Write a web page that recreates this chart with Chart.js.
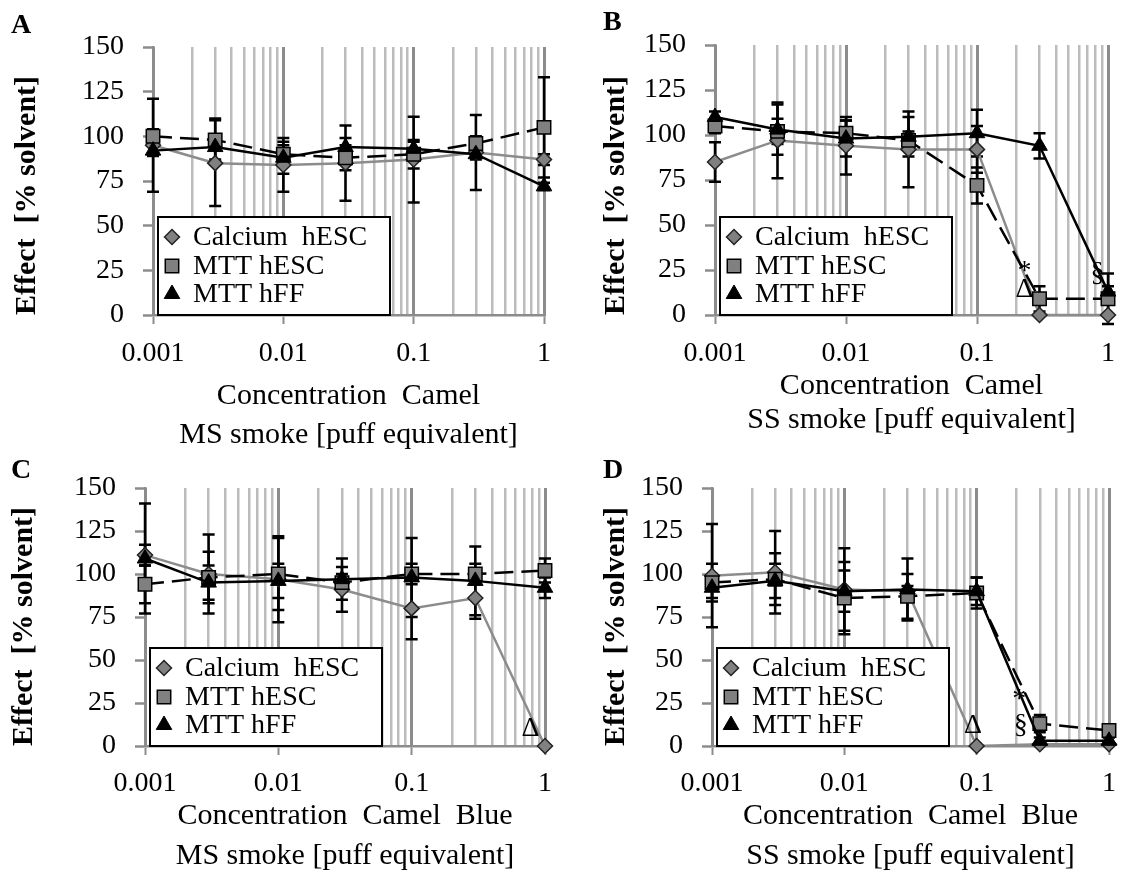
<!DOCTYPE html>
<html>
<head>
<meta charset="utf-8">
<script src="https://cdn.jsdelivr.net/npm/chart.js@4.4.1/dist/chart.umd.min.js"></script>
<style>
  body { margin: 0; background: #fff; }
  #wrap { position: relative; width: 1128px; height: 876px; overflow: hidden; }
  #wrap canvas { position: absolute; }
</style>
</head>
<body>
<div id="wrap">
  <canvas id="chartA" width="564" height="455" style="left:0;top:0;width:564px;height:455px"></canvas>
  <canvas id="chartB" width="564" height="437" style="left:564px;top:0;width:564px;height:437px"></canvas>
  <canvas id="chartC" width="564" height="440" style="left:0;top:436px;width:564px;height:440px"></canvas>
  <canvas id="chartD" width="564" height="440" style="left:564px;top:436px;width:564px;height:440px"></canvas>
</div>
<script>
const xValues = [0.001, 0.003, 0.01, 0.03, 0.1, 0.3, 1];
const tickValues = [0.001, 0.01, 0.1, 1];
const tickLabels = ['0.001', '0.01', '0.1', '1'];
const seriesNames = ['Calcium  hESC', 'MTT hESC', 'MTT hFF'];
const yTitle = 'Effect  [% solvent]';

const titleA = ['Concentration  Camel', 'MS smoke [puff equivalent]'];
const titleB = ['Concentration  Camel', 'SS smoke [puff equivalent]'];
const titleC = ['Concentration  Camel  Blue', 'MS smoke [puff equivalent]'];
const titleD = ['Concentration  Camel  Blue', 'SS smoke [puff equivalent]'];

// A - Camel, MS smoke
const calciumA = [95, 85, 84, 85, 87, 91, 87];
const mttEscA = [100, 98, 90, 88, 90, 96, 105];
const mttHffA = [92, 94, 88, 94, 93, 90, 72];
const errCalciumA = [26, 24, 15, 21, 24, 21, 3];
const errEscA = [4, 12, 5, 7, 8, 4, 28];
const errHffA = [3, 7, 9, 5, 4, 3, 2];

// B - Camel, SS smoke
const calciumB = [85, 97, 94, 92, 92, 0, 0];
const mttEscB = [105, 102, 101, 97, 72, 9, 9];
const mttHffB = [110, 103, 98, 99, 101, 94, 13];
const errCalciumB = [11, 21, 16, 21, 13, 0, 0];
const errEscB = [4, 7, 7, 5, 10, 7, 14];
const errHffB = [3, 14, 10, 11, 13, 7, 3];
const marksB = [['*', 0.23, 24], ['\u0394', 0.23, 14], ['\u00a7', 0.83, 23]];

// C - Camel Blue, MS smoke
const calciumC = [111, 100, 97, 91, 80, 86, 0];
const mttEscC = [94, 98, 100, 95, 100, 100, 102];
const mttHffC = [109, 95, 96, 97, 98, 96, 92];
const errCalciumC = [6, 23, 25, 13, 18, 12, 0];
const errEscC = [11, 15, 21, 5, 6, 6, 7];
const errHffC = [32, 10, 10, 12, 23, 20, 6];
const marksC = [['\u0394', 0.78, 10]];

// D - Camel Blue, SS smoke
const calciumD = [99, 101, 91, 90, 0, 1, 1];
const mttEscD = [95, 97, 86, 87, 89, 13, 9];
const mttHffD = [92, 96, 90, 91, 90, 3, 3];
const errCalciumD = [30, 24, 24, 3, 0, 0, 0];
const errEscD = [11, 15, 21, 13, 9, 5, 2];
const errHffD = [6, 10, 12, 18, 8, 2, 2];
const marksD = [['\u0394', 0.094, 12], ['\u00a7', 0.215, 12], ['*', 0.21, 27]];

const serif = "'Liberation Serif', 'Times New Roman', serif";

function isMajor(v) {
  const l = Math.log10(v);
  return Math.abs(l - Math.round(l)) < 1e-9;
}

// error bars under the markers
const errorBars = {
  id: 'errorBars',
  beforeDatasetsDraw(chart) {
    const {ctx, scales: {x, y}} = chart;
    ctx.save();
    ctx.strokeStyle = '#000';
    ctx.lineWidth = 2.5;
    chart.data.datasets.forEach(ds => {
      ds.data.forEach((p, i) => {
        const e = ds.errors[i];
        if (!e) return;
        const px = x.getPixelForValue(p.x);
        const top = y.getPixelForValue(p.y + e);
        const bot = y.getPixelForValue(p.y - e);
        ctx.beginPath();
        ctx.moveTo(px, top); ctx.lineTo(px, bot);
        ctx.moveTo(px - 6, top); ctx.lineTo(px + 6, top);
        ctx.moveTo(px - 6, bot); ctx.lineTo(px + 6, bot);
        ctx.stroke();
      });
    });
    ctx.restore();
  }
};

// boxed legend inside the plot, panel letter, significance marks
const panelDeco = {
  id: 'panelDeco',
  afterDatasetsDraw(chart, args, opts) {
    const {ctx, chartArea, scales: {x, y}} = chart;
    ctx.save();
    ctx.font = '28px ' + serif;
    ctx.fillStyle = '#000';
    ctx.textAlign = 'center';
    ctx.textBaseline = 'middle';
    (opts.marks || []).forEach(m => {
      ctx.fillText(m[0], x.getPixelForValue(m[1]), y.getPixelForValue(m[2]));
    });

    const bx = chartArea.left + 5, bh = 98, bw = 232;
    const by = chartArea.bottom - bh;
    ctx.fillStyle = '#fff';
    ctx.fillRect(bx, by, bw, bh);
    ctx.strokeStyle = '#000';
    ctx.lineWidth = 2;
    ctx.strokeRect(bx, by, bw, bh);
    const rows = [20, 49, 77];
    chart.data.datasets.forEach((ds, i) => {
      const cy = by + rows[i];
      ctx.fillStyle = ds.pointBackgroundColor;
      ctx.strokeStyle = ds.pointBorderColor;
      ctx.lineWidth = ds.pointBorderWidth;
      Chart.helpers.drawPoint(ctx, {pointStyle: ds.pointStyle, radius: ds.pointRadius, borderWidth: ds.pointBorderWidth, rotation: 0}, bx + 14, cy);
      ctx.fillStyle = '#000';
      ctx.textAlign = 'left';
      ctx.font = '28px ' + serif;
      ctx.fillText(ds.label, bx + 35, cy + 1);
    });

    ctx.font = 'bold 28px ' + serif;
    ctx.textAlign = 'left';
    ctx.textBaseline = 'alphabetic';
    ctx.fillText(opts.letter, opts.letterX, opts.letterY);
    ctx.restore();
  }
};

function points(vals) {
  return xValues.map((x, i) => ({x: x, y: vals[i]}));
}

function makePanel(id, p) {
  const datasets = [
    {
      label: seriesNames[0], data: points(p.cal), errors: p.eCal, order: 3,
      borderColor: '#8c8c8c', borderWidth: 2.5,
      pointStyle: 'rectRot', pointRadius: 7.5, pointBackgroundColor: '#808080',
      pointBorderColor: '#222', pointBorderWidth: 1.5
    },
    {
      label: seriesNames[1], data: points(p.esc), errors: p.eEsc, order: 2,
      borderColor: '#000', borderWidth: 2.5, borderDash: [19, 8],
      pointStyle: 'rect', pointRadius: 9.5, pointBackgroundColor: '#808080',
      pointBorderColor: '#000', pointBorderWidth: 1.5
    },
    {
      label: seriesNames[2], data: points(p.hff), errors: p.eHff, order: 1,
      borderColor: '#000', borderWidth: 2.5,
      pointStyle: 'triangle', pointRadius: 9, pointBackgroundColor: '#000',
      pointBorderColor: '#000', pointBorderWidth: 1
    }
  ];
  datasets.forEach(d => { d.clip = false; d.tension = 0; d.fill = false; });

  return new Chart(document.getElementById(id), {
    type: 'line',
    data: {datasets: datasets},
    plugins: [errorBars, panelDeco],
    options: {
      responsive: false,
      animation: false,
      events: [],
      layout: {padding: {left: 0, top: p.top, right: p.right, bottom: 0}},
      plugins: {
        legend: {display: false},
        tooltip: {enabled: false},
        panelDeco: {letter: p.letter, letterX: p.lx, letterY: p.ly, marks: p.marks}
      },
      scales: {
        x: {
          type: 'logarithmic',
          min: 0.001,
          max: 1,
          afterBuildTicks: s => {
            const t = [];
            for (let e = -3; e < 0; e++) {
              for (let k = 1; k < 10; k++) t.push({value: +(k * Math.pow(10, e)).toPrecision(6)});
            }
            t.push({value: 1});
            s.ticks = t;
          },
          afterFit: s => { s.height = p.xH; },
          ticks: {
            autoSkip: false,
            maxRotation: 0,
            padding: p.tickPad,
            color: '#000',
            font: {family: serif, size: 28},
            callback: v => {
              const i = tickValues.findIndex(t => Math.abs(t - v) < 1e-9);
              return i >= 0 ? tickLabels[i] : '';
            }
          },
          grid: {
            color: c => isMajor(c.tick.value) ? '#8c8c8c' : '#bcbcbc',
            lineWidth: c => isMajor(c.tick.value) ? 3 : 2.5,
            tickColor: c => isMajor(c.tick.value) ? '#8c8c8c' : 'rgba(0,0,0,0)',
            tickLength: 9,
            tickWidth: 2
          },
          border: {display: true, color: '#8c8c8c', width: 2.5},
          title: {
            display: true,
            text: p.xTitle,
            color: '#000',
            padding: {top: 0, bottom: 0},
            font: {family: serif, size: 30, lineHeight: p.lh + 'px'}
          }
        },
        y: {
          min: 0,
          max: 150,
          afterFit: s => { s.width = p.yW; },
          ticks: {
            stepSize: 25,
            padding: 19,
            color: '#000',
            font: {family: serif, size: 28}
          },
          grid: {
            drawOnChartArea: false,
            tickLength: 10,
            tickWidth: 2.5,
            tickColor: '#8c8c8c'
          },
          border: {display: true, color: '#8c8c8c', width: 2.5},
          title: {
            display: true,
            text: yTitle,
            align: 'start',
            color: '#000',
            padding: {top: p.yPad, bottom: 0},
            font: {family: serif, size: 30, weight: 'bold'}
          }
        }
      }
    }
  });
}

makePanel('chartA', {
  cal: calciumA, esc: mttEscA, hff: mttHffA, eCal: errCalciumA, eEsc: errEscA, eHff: errHffA,
  marks: [], letter: 'A', lx: 11, ly: 33, top: 47, right: 15, yW: 153, xH: 140,
  lh: 39, tickPad: 13, yPad: 9, xTitle: titleA
});
makePanel('chartB', {
  cal: calciumB, esc: mttEscB, hff: mttHffB, eCal: errCalciumB, eEsc: errEscB, eHff: errHffB,
  marks: marksB, letter: 'B', lx: 39, ly: 30, top: 45, right: 15, yW: 151, xH: 122,
  lh: 34, tickPad: 13, yPad: 34, xTitle: titleB
});
makePanel('chartC', {
  cal: calciumC, esc: mttEscC, hff: mttHffC, eCal: errCalciumC, eEsc: errEscC, eHff: errHffC,
  marks: marksC, letter: 'C', lx: 11, ly: 42, top: 52, right: 17, yW: 145, xH: 130,
  lh: 40, tickPad: 12, yPad: 6, xTitle: titleC
});
makePanel('chartD', {
  cal: calciumD, esc: mttEscD, hff: mttHffD, eCal: errCalciumD, eEsc: errEscD, eHff: errHffD,
  marks: marksD, letter: 'D', lx: 39, ly: 42, top: 52, right: 7, yW: 148, xH: 130,
  lh: 40, tickPad: 12, yPad: 34, xTitle: titleD
});
</script>
</body>
</html>
